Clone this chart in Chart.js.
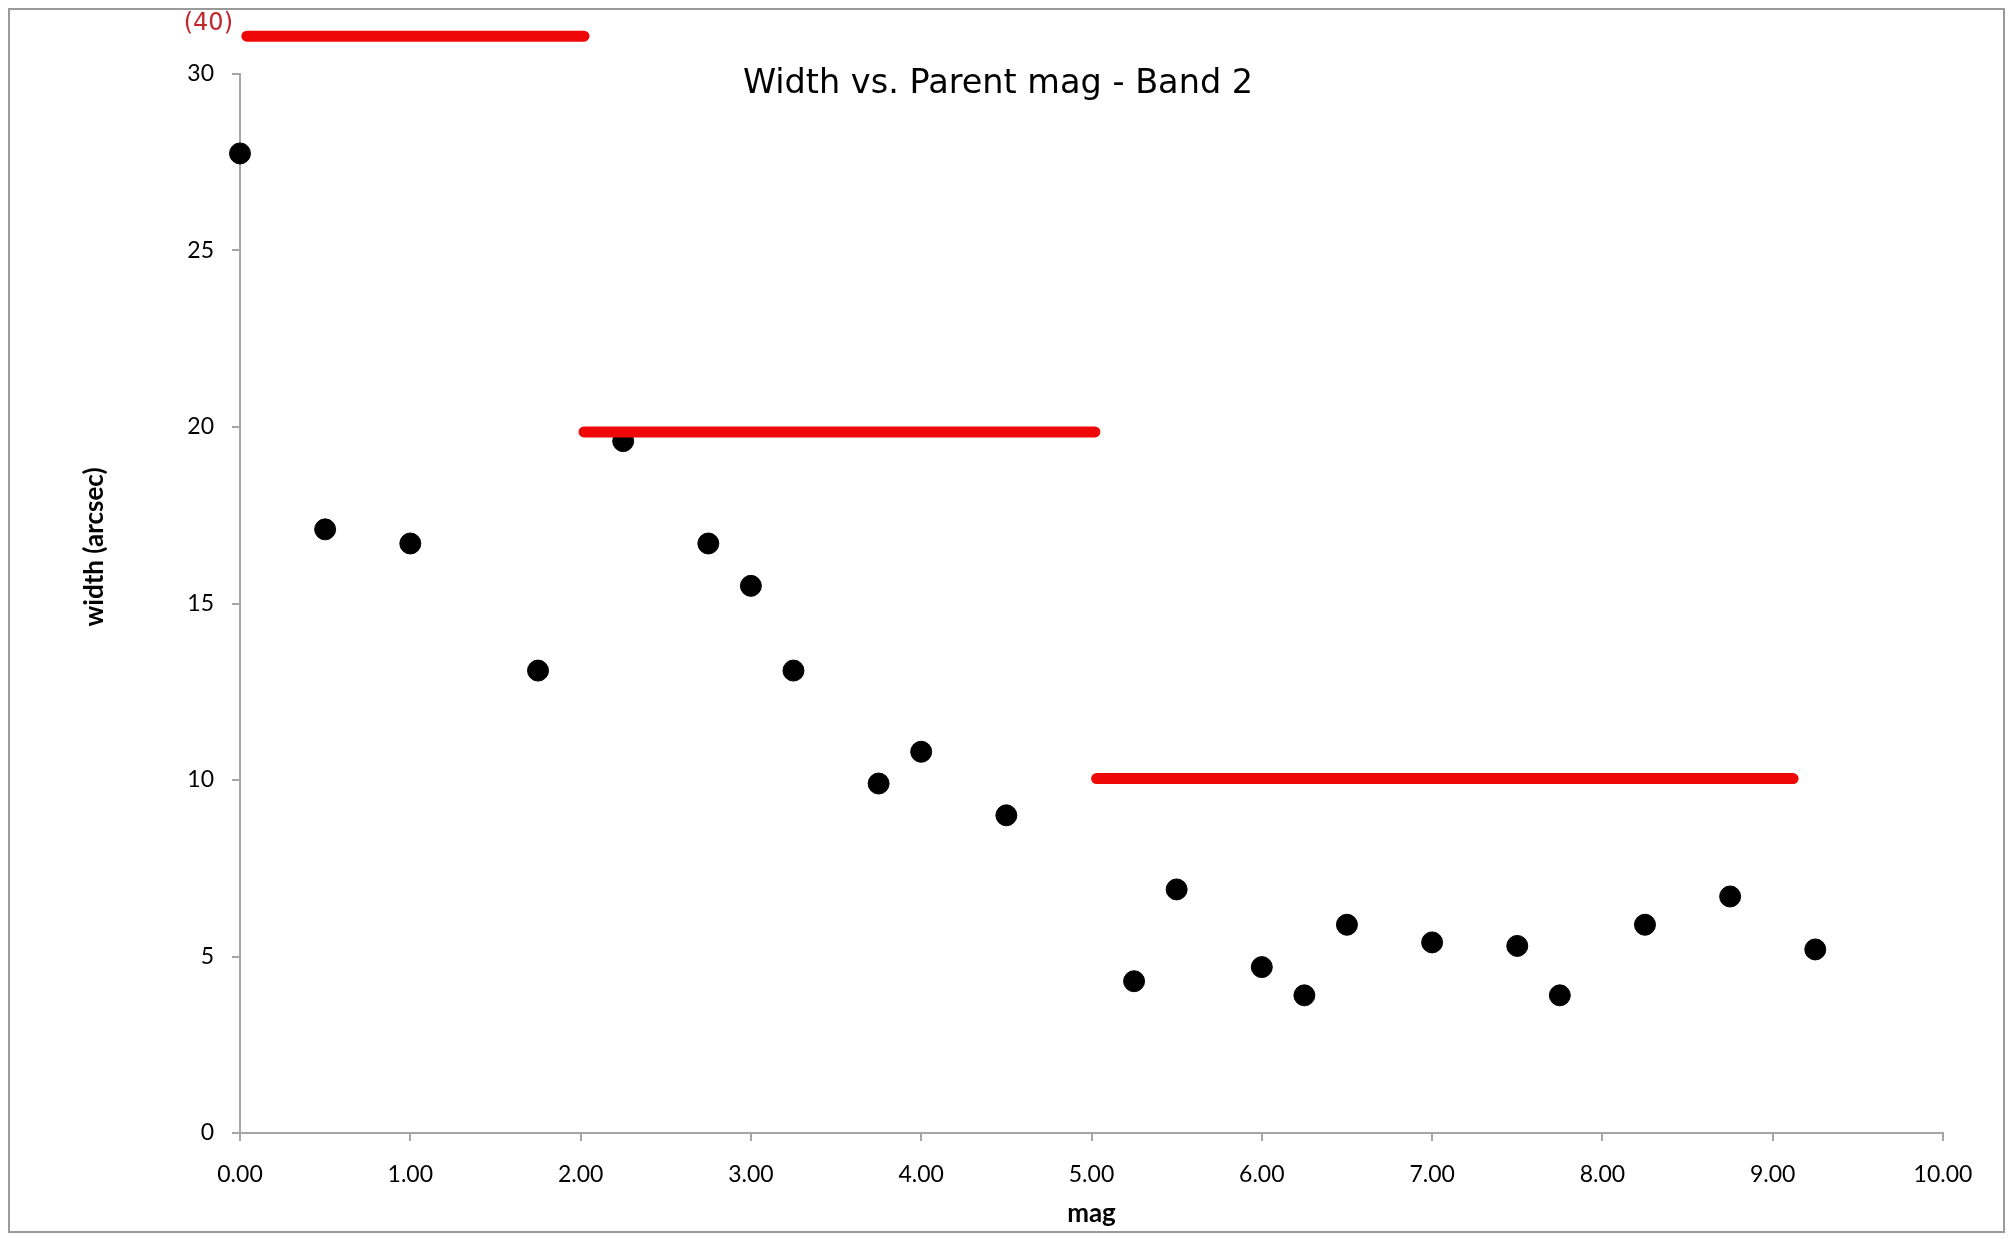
<!DOCTYPE html>
<html>
<head>
<meta charset="utf-8">
<title>Width vs. Parent mag - Band 2</title>
<script src="https://cdn.jsdelivr.net/npm/chart.js@4.4.1/dist/chart.umd.min.js"></script>
<style>
    html, body { margin: 0; padding: 0; background: #ffffff; }
    #wrap { width: 2012px; height: 1240px; position: relative; }
</style>
</head>
<body>
<div id="wrap"><canvas id="widthChart" width="2012" height="1240"></canvas></div>
<script>
/* ---------------------------
   DATA
---------------------------*/
const magValues = [0, 0.5, 1.0, 1.75, 2.25, 2.75, 3.0, 3.25, 3.75, 4.0, 4.5,
    5.25, 5.5, 6.0, 6.25, 6.5, 7.0, 7.5, 7.75, 8.25, 8.75, 9.25];
const widthValues = [27.75, 17.1, 16.7, 13.1, 19.6, 16.7, 15.5, 13.1, 9.9, 10.8, 9.0,
    4.3, 6.9, 4.7, 3.9, 5.9, 5.4, 5.3, 3.9, 5.9, 6.7, 5.2];

// red limit bars: start mag, end mag, width level (first one is off scale, true value 40)
const limitStart = [0.04, 2.02, 5.03];
const limitEnd = [2.02, 5.02, 9.12];
const limitLevel = [31.07, 19.86, 10.04];

const xTicks = [0, 1, 2, 3, 4, 5, 6, 7, 8, 9, 10];
const yTicks = [0, 5, 10, 15, 20, 25, 30];

const chartTitle = 'Width vs. Parent mag - Band 2';
const xTitle = 'mag';
const yTitle = 'width (arcsec)';
const offScaleLabel = '(40)';

/* ---------------------------
   STYLE
---------------------------*/
const axisGray = '#a6a6a6';
const tickFont = { family: 'Lato', size: 23 };

/* ---------------------------
   EXTRA TEXT + FRAME
---------------------------*/
const decorPlugin = {
    id: 'decor',
    afterDraw(chart) {
        const ctx = chart.ctx;
        ctx.save();

        // outer frame
        ctx.strokeStyle = '#9a9a9a';
        ctx.lineWidth = 2;
        ctx.strokeRect(9, 9, 1995, 1223);

        // title
        ctx.fillStyle = '#000000';
        ctx.font = '33.5px "DejaVu Sans"';
        ctx.textAlign = 'center';
        ctx.textBaseline = 'middle';
        ctx.fillText(chartTitle, 998, 84);

        // off-scale label
        ctx.fillStyle = '#c0262c';
        ctx.font = '24px "DejaVu Sans"';
        ctx.textAlign = 'right';
        ctx.fillText(offScaleLabel, 233, 24);

        // axis titles
        ctx.fillStyle = '#000000';
        ctx.font = 'bold 26px Lato';
        ctx.textAlign = 'center';
        ctx.fillText(xTitle, (chart.chartArea.left + chart.chartArea.right) / 2, 1214);

        ctx.translate(95, 547);
        ctx.rotate(-Math.PI / 2);
        ctx.fillText(yTitle, 0, 0);

        ctx.restore();
    }
};

/* ---------------------------
   INITIALIZE CHART
---------------------------*/
function initializeChart() {
    const ctx = document.getElementById('widthChart');
    if (!ctx) return;

    const limitSets = limitLevel.map((lvl, i) => ({
        type: 'line',
        label: 'limit ' + (i + 1),
        data: [{ x: limitStart[i], y: lvl }, { x: limitEnd[i], y: lvl }],
        borderColor: '#ee0808',
        borderWidth: 11,
        borderCapStyle: 'round',
        pointRadius: 0,
        fill: false,
        clip: false,
        order: 0
    }));

    const chart = new Chart(ctx, {
        type: 'scatter',
        data: {
            datasets: [
                ...limitSets,
                {
                    label: 'width',
                    data: magValues.map((m, i) => ({ x: m, y: widthValues[i] })),
                    backgroundColor: '#000000',
                    borderColor: '#000000',
                    pointRadius: 10.5,
                    pointHoverRadius: 10.5,
                    clip: false,
                    order: 1
                }
            ]
        },
        options: {
            responsive: false,
            animation: false,
            events: [],
            layout: {
                padding: { left: 0, top: 74, right: 69, bottom: 0 }
            },
            plugins: {
                legend: { display: false },
                tooltip: { enabled: false },
                title: { display: false }
            },
            scales: {
                x: {
                    type: 'linear',
                    min: 0,
                    max: 10,
                    afterFit: (scale) => { scale.height = 107; },
                    afterBuildTicks: (scale) => { scale.ticks = xTicks.map(v => ({ value: v })); },
                    border: { color: axisGray, width: 2 },
                    grid: {
                        drawOnChartArea: false,
                        drawTicks: true,
                        tickLength: 8,
                        color: axisGray,
                        lineWidth: 2
                    },
                    ticks: {
                        color: '#000000',
                        font: tickFont,
                        padding: 20,
                        maxRotation: 0,
                        callback: (v) => Number(v).toFixed(2)
                    }
                },
                y: {
                    type: 'linear',
                    min: 0,
                    max: 30,
                    afterFit: (scale) => { scale.width = 240; },
                    afterBuildTicks: (scale) => { scale.ticks = yTicks.map(v => ({ value: v })); },
                    border: { color: axisGray, width: 2 },
                    grid: {
                        drawOnChartArea: false,
                        drawTicks: true,
                        tickLength: 8,
                        color: axisGray,
                        lineWidth: 2
                    },
                    ticks: {
                        color: '#000000',
                        font: tickFont,
                        padding: 18
                    }
                }
            }
        },
        plugins: [decorPlugin]
    });

    return chart;
}

initializeChart();
</script>
</body>
</html>
